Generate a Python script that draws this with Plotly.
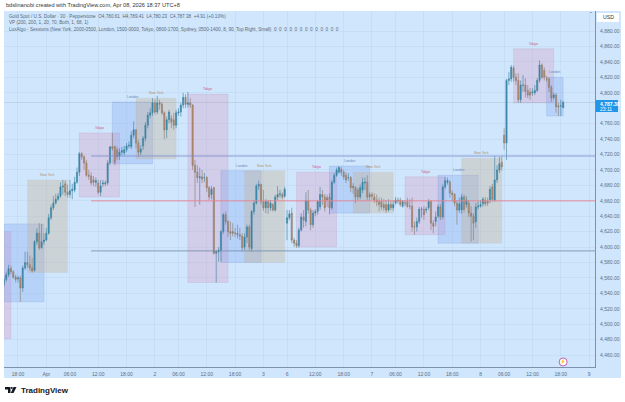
"""Gold spot 30 min chart with session boxes"""
import plotly.graph_objects as go

# OHLC, one value per 30 min bar
opens = [
    4551, 4558, 4564, 4572, 4568, 4561, 4559, 4560, 4547, 4573,
    4580, 4577, 4573, 4570, 4607, 4618, 4599, 4607, 4609, 4618,
    4638, 4651, 4657, 4662, 4666, 4678, 4682, 4671, 4668, 4673,
    4674, 4684, 4697, 4721, 4717, 4709, 4693, 4692, 4687, 4684,
    4683, 4671, 4682, 4682, 4683, 4709, 4730, 4730, 4726, 4718,
    4723, 4722, 4726, 4731, 4730, 4745, 4752, 4735, 4723, 4731,
    4741, 4758, 4771, 4774, 4787, 4775, 4787, 4785, 4774, 4752,
    4765, 4767, 4765, 4758, 4774, 4775, 4784, 4794, 4785, 4787,
    4784, 4706, 4697, 4690, 4691, 4690, 4690, 4677, 4668, 4677,
    4592, 4594, 4596, 4620, 4642, 4633, 4620, 4620, 4618, 4618,
    4616, 4614, 4600, 4613, 4626, 4598, 4646, 4657, 4679, 4681,
    4659, 4651, 4659, 4651, 4655, 4648, 4665, 4668, 4668, 4666,
    4631, 4638, 4644, 4609, 4605, 4602, 4622, 4639, 4633, 4660,
    4648, 4629, 4644, 4646, 4652, 4668, 4665, 4664, 4665, 4651,
    4684, 4693, 4697, 4701, 4697, 4693, 4690, 4690, 4679, 4677,
    4674, 4665, 4674, 4683, 4684, 4668, 4668, 4665, 4661, 4659,
    4659, 4655, 4655, 4648, 4655, 4651, 4657, 4661, 4661, 4653,
    4657, 4659, 4653, 4653, 4626, 4626, 4633, 4649, 4649, 4648,
    4651, 4659, 4631, 4633, 4640, 4652, 4639, 4678, 4684, 4684,
    4670, 4668, 4657, 4648, 4648, 4665, 4655, 4657, 4644, 4640,
    4633, 4652, 4653, 4656, 4661, 4659, 4661, 4678, 4661, 4687,
    4700, 4710, 4745, 4735, 4816, 4818, 4832, 4820, 4816, 4791,
    4810, 4810, 4803, 4801, 4800, 4800, 4803, 4816, 4836, 4829,
    4818, 4818, 4807, 4794, 4797, 4783, 4783, 4780.61,
]
highs = [
    4563, 4568, 4577, 4576, 4570, 4564, 4563, 4563, 4576, 4594,
    4594, 4589, 4586, 4609, 4624, 4631, 4630, 4618, 4625, 4643,
    4655, 4666, 4669, 4670, 4684, 4687, 4686, 4681, 4687, 4682,
    4691, 4703, 4723, 4723, 4719, 4713, 4700, 4697, 4692, 4690,
    4687, 4687, 4687, 4686, 4713, 4731, 4748, 4732, 4730, 4728,
    4730, 4731, 4735, 4737, 4750, 4763, 4753, 4739, 4732, 4744,
    4762, 4775, 4780, 4793, 4791, 4796, 4791, 4788, 4776, 4769,
    4778, 4771, 4774, 4778, 4780, 4787, 4800, 4798, 4801, 4793,
    4785, 4713, 4706, 4703, 4700, 4696, 4692, 4679, 4679, 4678,
    4596, 4600, 4622, 4644, 4646, 4635, 4633, 4631, 4625, 4629,
    4625, 4618, 4618, 4629, 4629, 4648, 4661, 4682, 4686, 4682,
    4674, 4662, 4661, 4661, 4657, 4668, 4679, 4674, 4671, 4678,
    4648, 4648, 4651, 4612, 4609, 4625, 4644, 4648, 4671, 4674,
    4651, 4648, 4649, 4661, 4678, 4674, 4669, 4668, 4670, 4687,
    4696, 4703, 4705, 4704, 4700, 4697, 4696, 4692, 4683, 4679,
    4677, 4681, 4690, 4690, 4693, 4671, 4671, 4670, 4668, 4664,
    4664, 4662, 4661, 4662, 4660, 4660, 4665, 4664, 4664, 4661,
    4661, 4664, 4662, 4664, 4633, 4638, 4652, 4652, 4653, 4652,
    4662, 4661, 4635, 4646, 4655, 4656, 4681, 4691, 4690, 4687,
    4674, 4670, 4661, 4664, 4669, 4668, 4666, 4661, 4653, 4644,
    4657, 4659, 4661, 4665, 4665, 4664, 4679, 4682, 4718, 4706,
    4717, 4718, 4754, 4818, 4827, 4836, 4835, 4825, 4825, 4816,
    4823, 4819, 4810, 4806, 4806, 4810, 4819, 4842, 4838, 4833,
    4822, 4820, 4810, 4800, 4800, 4787, 4791, 4789.41,
]
lows = [
    4548, 4555, 4561, 4565, 4559, 4554, 4554, 4529, 4542, 4570,
    4573, 4569, 4567, 4568, 4603, 4596, 4598, 4603, 4608, 4616,
    4635, 4648, 4655, 4660, 4664, 4668, 4666, 4664, 4664, 4662,
    4671, 4682, 4692, 4713, 4700, 4691, 4687, 4680, 4679, 4678,
    4668, 4666, 4678, 4679, 4680, 4706, 4725, 4706, 4713, 4713,
    4719, 4719, 4723, 4728, 4727, 4741, 4728, 4717, 4719, 4726,
    4737, 4754, 4767, 4770, 4772, 4772, 4778, 4771, 4740, 4741,
    4760, 4754, 4752, 4754, 4770, 4769, 4780, 4780, 4781, 4780,
    4700, 4652, 4683, 4655, 4683, 4684, 4671, 4661, 4662, 4590,
    4554, 4581, 4581, 4617, 4629, 4613, 4609, 4614, 4613, 4611,
    4609, 4594, 4596, 4605, 4596, 4594, 4642, 4655, 4674, 4655,
    4647, 4644, 4643, 4647, 4646, 4646, 4661, 4664, 4662, 4664,
    4609, 4635, 4605, 4600, 4599, 4599, 4620, 4625, 4627, 4643,
    4622, 4625, 4640, 4642, 4648, 4655, 4646, 4652, 4642, 4648,
    4682, 4691, 4695, 4692, 4687, 4683, 4686, 4671, 4669, 4657,
    4661, 4662, 4670, 4674, 4661, 4660, 4661, 4657, 4653, 4646,
    4648, 4647, 4644, 4646, 4648, 4647, 4655, 4656, 4652, 4651,
    4653, 4651, 4649, 4620, 4616, 4620, 4630, 4638, 4635, 4644,
    4648, 4622, 4618, 4627, 4638, 4635, 4636, 4675, 4681, 4664,
    4659, 4653, 4629, 4644, 4643, 4645, 4651, 4639, 4607, 4609,
    4625, 4649, 4651, 4652, 4653, 4653, 4657, 4659, 4659, 4683,
    4696, 4699, 4726, 4713, 4810, 4814, 4814, 4810, 4787, 4787,
    4801, 4794, 4793, 4791, 4796, 4797, 4801, 4813, 4818, 4816,
    4814, 4801, 4788, 4791, 4774, 4770, 4770, 4780.23,
]
closes = [
    4558, 4564, 4572, 4568, 4561, 4558, 4560, 4547, 4573, 4580,
    4577, 4573, 4569, 4607, 4618, 4599, 4607, 4609, 4618, 4638,
    4651, 4657, 4662, 4666, 4678, 4679, 4671, 4668, 4673, 4675,
    4684, 4697, 4721, 4717, 4709, 4693, 4692, 4683, 4684, 4686,
    4671, 4679, 4683, 4683, 4709, 4730, 4728, 4710, 4717, 4723,
    4725, 4726, 4731, 4732, 4745, 4752, 4735, 4723, 4727, 4741,
    4758, 4771, 4774, 4787, 4775, 4787, 4785, 4774, 4752, 4765,
    4775, 4762, 4758, 4774, 4775, 4784, 4794, 4785, 4787, 4784,
    4706, 4697, 4690, 4691, 4688, 4690, 4677, 4665, 4675, 4592,
    4594, 4596, 4620, 4642, 4633, 4620, 4618, 4618, 4618, 4616,
    4614, 4599, 4613, 4626, 4600, 4646, 4657, 4679, 4681, 4659,
    4651, 4659, 4651, 4657, 4648, 4665, 4668, 4669, 4665, 4675,
    4638, 4643, 4609, 4605, 4602, 4622, 4639, 4635, 4660, 4648,
    4629, 4644, 4646, 4659, 4668, 4665, 4651, 4661, 4651, 4684,
    4693, 4700, 4703, 4697, 4691, 4687, 4690, 4677, 4677, 4665,
    4665, 4677, 4684, 4684, 4665, 4665, 4666, 4661, 4659, 4655,
    4652, 4651, 4648, 4655, 4651, 4655, 4661, 4660, 4655, 4659,
    4657, 4653, 4653, 4626, 4626, 4633, 4649, 4649, 4642, 4649,
    4659, 4631, 4627, 4639, 4652, 4639, 4678, 4686, 4686, 4670,
    4668, 4657, 4648, 4656, 4665, 4649, 4661, 4644, 4640, 4631,
    4652, 4653, 4655, 4662, 4656, 4657, 4675, 4662, 4687, 4700,
    4708, 4704, 4735, 4816, 4818, 4833, 4820, 4816, 4791, 4810,
    4810, 4802, 4797, 4797, 4801, 4803, 4816, 4836, 4820, 4820,
    4818, 4807, 4793, 4797, 4782, 4782, 4783, 4787.38,
]
bar_index = list(range(len(closes)))

# time axis, bars are counted so the weekend and the daily break stay closed
time_tick_bars = [6, 18, 28, 40, 52, 64, 74, 86, 98, 110, 120, 132, 144, 156,
                  166, 178, 190, 202, 212, 224, 236, 248]
time_tick_labels = ["18:00", "Apr", "06:00", "12:00", "18:00", "2", "06:00", "12:00",
                    "18:00", "3", "6", "12:00", "18:00", "7", "06:00", "12:00",
                    "18:00", "8", "06:00", "12:00", "18:00", "9"]
# 4,780 sits behind the price tag, so the reference does not show it
price_ticks = [4460, 4480, 4500, 4520, 4540, 4560, 4580, 4600, 4620, 4640, 4660, 4680,
               4700, 4720, 4740, 4760, 4800, 4820, 4840, 4860, 4880]

# sessions: name, first bar, last bar, top, bottom
session_names = ["Tokyo", "London", "New York", "Tokyo", "London", "New York", "Tokyo", "London",
                 "New York", "Tokyo", "London", "New York", "Tokyo", "London", "New York",
                 "Tokyo", "London"]
session_start = [0, 0, 10, 32, 46, 56, 78, 92, 102, 124, 138, 148, 170, 184, 194, 216, 230]
session_end = [3, 17, 27, 49, 63, 73, 95, 109, 119, 141, 155, 165, 187, 201, 211, 233, 237]
session_top = [4620, 4630, 4687, 4748, 4788, 4793, 4798, 4699, 4699, 4697, 4705, 4697, 4691,
               4693, 4715, 4857, 4820]
session_bottom = [4481, 4529, 4567, 4665, 4708, 4714, 4554, 4580, 4580, 4600, 4644, 4644, 4616,
                  4605, 4605, 4787, 4770]

level_prices = [4718, 4660, 4595]
last_price = 4787.38

BG = "#cfe6fc"
FONT = "Liberation Sans"
SESSION_STYLE = {
    "Tokyo": ("rgba(220,150,190,0.30)", "rgba(170,110,170,0.28)", "#d0508a"),
    "London": ("rgba(110,150,235,0.25)", "rgba(90,130,210,0.35)", "#6f86b8"),
    "New York": ("rgba(200,170,130,0.30)", "rgba(170,160,150,0.2)", "#b0906c"),
}
LEVEL_STYLE = [("#7d8ccb", 0.8), ("rgba(232,130,145,0.6)", 1.5), ("#6f8aa8", 0.8)]
X_RANGE = [0.07, 250.5]
Y_RANGE = [4444.5, 4906]
PLOT_W = 591
PLOT_H = 356


def px_x(x):
    return (x - 4) / PLOT_W


def px_y(y):
    return (367 - y) / PLOT_H


def label(x, y, text, size=5.2, color="#5a6a7a", anchor="left"):
    return dict(x=px_x(x), y=px_y(y), xref="paper", yref="paper", text=text, showarrow=False,
                xanchor=anchor, yanchor="middle", font=dict(family=FONT, size=size, color=color))


fig = go.Figure()
fig.add_trace(go.Candlestick(
    x=bar_index, open=opens, high=highs, low=lows, close=closes,
    whiskerwidth=0,
    increasing=dict(line=dict(color="#3f7f9c", width=0.6), fillcolor="#2f8db3"),
    decreasing=dict(line=dict(color="#86796f", width=0.6), fillcolor="#c98a5f"),
    hoverinfo="skip",
))
# replay marker near the last bar
fig.add_trace(go.Scatter(
    x=[237], y=[4451], mode="markers+text", text=["⚡"],
    textfont=dict(size=4.5, color="#b0409a"), textposition="middle center",
    marker=dict(size=8, color="white", line=dict(color="#b0409a", width=0.8)),
    hoverinfo="skip",
))

shapes = [
    # strip behind the axes
    dict(type="rect", xref="paper", yref="paper", x0=0, x1=px_x(621), y0=px_y(378), y1=1,
         fillcolor=BG, line_width=0, layer="below"),
]
annotations = []
for name, x0, x1, top, bottom in zip(session_names, session_start, session_end, session_top, session_bottom):
    fill, edge, text_color = SESSION_STYLE[name]
    shapes.append(dict(type="rect", x0=x0, x1=x1, y0=bottom, y1=top, fillcolor=fill,
                       line=dict(color=edge, width=0.5), layer="below"))
    if x0 > 0:
        annotations.append(dict(x=(x0 + x1) / 2, y=top, text=name, showarrow=False, yanchor="bottom",
                                yshift=1, font=dict(family=FONT, size=3.4, color=text_color)))

for price, (color, width) in zip(level_prices, LEVEL_STYLE):
    shapes.append(dict(type="line", x0=37, x1=X_RANGE[1], y0=price, y1=price,
                       line=dict(color=color, width=width), layer="above"))
shapes.append(dict(type="line", x0=X_RANGE[0], x1=X_RANGE[1], y0=last_price, y1=last_price,
                   line=dict(color="rgba(130,150,170,0.4)", width=0.6), layer="below"))

# USD box, price tag and logo
shapes.append(dict(type="rect", xref="paper", yref="paper", x0=px_x(597), x1=px_x(619),
                   y0=px_y(22), y1=px_y(13), fillcolor="white", line_width=0))
shapes.append(dict(type="rect", xref="paper", yref="paper", x0=px_x(595.5), x1=px_x(618),
                   y0=px_y(112), y1=px_y(100), fillcolor="#2196e8", line_width=0))
logo_paths = [
    f"M{px_x(5)},{px_y(387)} L{px_x(10.5)},{px_y(387)} L{px_x(10.5)},{px_y(393)} L{px_x(8)},{px_y(393)} "
    f"L{px_x(8)},{px_y(389.5)} L{px_x(5)},{px_y(389.5)} Z",
    f"M{px_x(13.5)},{px_y(387)} L{px_x(16.5)},{px_y(387)} L{px_x(13.5)},{px_y(393)} L{px_x(10.8)},{px_y(393)} Z",
]
for path in logo_paths:
    shapes.append(dict(type="path", xref="paper", yref="paper", path=path,
                       fillcolor="#131722", line_width=0))
shapes.append(dict(type="circle", xref="paper", yref="paper", x0=px_x(10.8), x1=px_x(12.8),
                   y0=px_y(389), y1=px_y(387), fillcolor="#131722", line_width=0))

annotations += [
    label(4, 5.5, "bdslinanobi created with TradingView.com, Apr 08, 2026 18:37 UTC+8", 5.6, "#333333"),
    label(7, 16.5, "Gold Spot / U.S. Dollar · 30 · Pepperstone&nbsp; O4,780.61&nbsp; H4,789.41&nbsp; "
                   "L4,780.23&nbsp; C4,787.38&nbsp; +4.91 (+0.10%)", 4.65),
    label(7, 23, "VP (200, 200, 1, 20, 70, Both, 1, 68, 1)", 4.65),
    label(7, 30, "LuxAlgo - Sessions (New York, 2000-0500, London, 1500-0000, Tokyo, 0800-1700, "
                 "Sydney, 0500-1400, 8, 90, Top Right, Small)&nbsp; 0&nbsp; 0&nbsp; 0&nbsp; 0&nbsp; 0&nbsp; 0&nbsp; "
                 "0&nbsp; 0&nbsp; 0&nbsp; 0&nbsp; 0&nbsp; 0&nbsp; 0", 4.65),
    label(608, 17.5, "USD", 5.2, "#333333", "center"),
    label(598, 103.5, "<b>4,787.38</b>", 5, "white"),
    label(598, 109, "23:11", 5, "white"),
    label(591, 14, "ˆ", 6, "#5a6a7a", "center"),
    label(19, 390.5, "<b>TradingView</b>", 8, "#131722"),
]

fig.update_layout(
    width=625, height=402,
    margin=dict(l=4, r=30, t=11, b=35),
    paper_bgcolor="white", plot_bgcolor=BG,
    showlegend=False,
    shapes=shapes, annotations=annotations,
    font=dict(family=FONT, size=5, color="#5f6f80"),
    xaxis=dict(
        range=X_RANGE, rangeslider=dict(visible=False),
        tickmode="array", tickvals=time_tick_bars, ticktext=time_tick_labels,
        showgrid=True, gridcolor="rgba(140,170,200,0.1)", gridwidth=0.6,
        showline=True, linecolor="#7d93ab", linewidth=1,
        ticks="outside", ticklen=2, tickcolor="rgba(0,0,0,0)",
        tickfont=dict(family=FONT, size=5, color="#5f6f80"), zeroline=False,
    ),
    yaxis=dict(
        range=Y_RANGE, side="right",
        tickmode="array", tickvals=price_ticks, tickformat=",.2f",
        showgrid=True, gridcolor="rgba(140,170,200,0.1)", gridwidth=0.6,
        showline=True, linecolor="#7d93ab", linewidth=1,
        ticks="outside", ticklen=3, tickcolor="rgba(0,0,0,0)",
        tickfont=dict(family=FONT, size=5, color="#5f6f80"), zeroline=False,
    ),
)

fig.write_html("out.html", config=dict(displayModeBar=False),
               post_script="document.body.style.margin='0';")
